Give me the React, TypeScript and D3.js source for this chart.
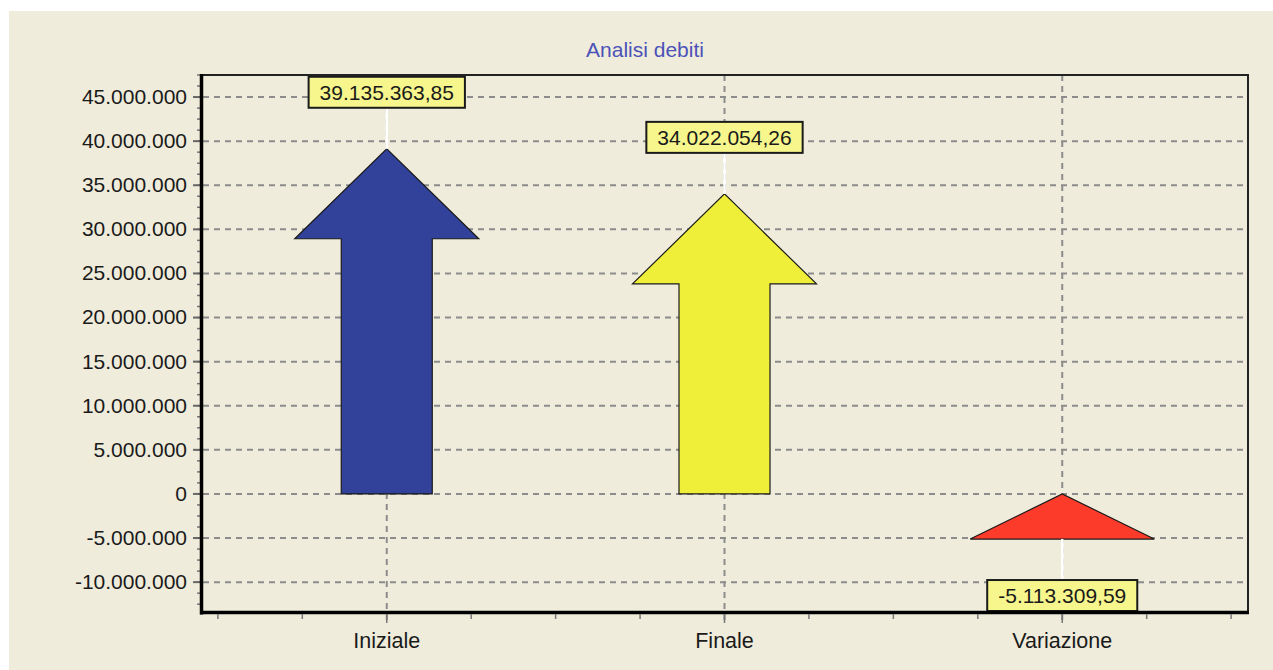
import React, { useEffect, useRef } from "react";
import * as d3 from "d3";

const TITLE = "Analisi debiti";
const CATEGORIES = ["Iniziale", "Finale", "Variazione"];
const VALUES = [39135363.85, 34022054.26, -5113309.59];
const COLORS = ["#32429b", "#efef3a", "#fd3b2b"];
const Y_TICKS = [-10000000, -5000000, 0, 5000000, 10000000, 15000000, 20000000, 25000000, 30000000, 35000000, 40000000, 45000000];
const Y_DOMAIN = [-13500000, 47500000];
const Y_MINOR_STEP = 1250000;
const X_DOMAIN = [-0.05, 3.05];
const X_TICK_STEP = 0.25;

const FONT = "'Liberation Sans', Arial, Helvetica, sans-serif";

export default function App() {
  const ref = useRef<SVGSVGElement>(null);

  useEffect(() => {
    const svg = d3.select(ref.current);
    svg.selectAll("*").remove();

    const W = 1273, H = 670;
    const M = { left: 201, right: 1248, top: 75, bottom: 613 };
    const SHAFT_W = 91, HEAD_W = 184, HEAD_LEN = 90, LABEL_GAP = 41, BOX_H = 31, BOX_PAD = 11;

    const it = d3.formatLocale({ decimal: ",", thousands: ".", grouping: [3], currency: ["", " €"], minus: "-" } as any);
    const fmtTick = it.format(",.0f");
    const fmtVal = it.format(",.2f");

    const x = d3.scaleLinear().domain(X_DOMAIN).range([M.left, M.right]);
    const y = d3.scaleLinear().domain(Y_DOMAIN).range([M.bottom, M.top]);

    // panel background
    svg.append("rect").attr("x", 0).attr("y", 0).attr("width", W).attr("height", H).attr("fill", "#ffffff");
    svg.append("rect").attr("x", 9).attr("y", 11).attr("width", W - 9).attr("height", H - 11).attr("fill", "#efecdb");

    // title
    svg.append("text")
      .attr("x", 645).attr("y", 57)
      .attr("text-anchor", "middle")
      .attr("font-family", FONT).attr("font-size", 21)
      .attr("fill", "#4b52b8")
      .text(TITLE);

    // horizontal gridlines
    svg.append("g").selectAll("line").data(Y_TICKS).join("line")
      .attr("x1", M.left + 2).attr("x2", M.right - 1)
      .attr("y1", (d) => y(d)).attr("y2", (d) => y(d))
      .attr("stroke", "#8c8c8c").attr("stroke-width", 2).attr("stroke-dasharray", "6,5");

    // vertical gridlines at categories
    svg.append("g").selectAll("line").data(CATEGORIES).join("line")
      .attr("x1", (_d, i) => x(i + 0.5)).attr("x2", (_d, i) => x(i + 0.5))
      .attr("y1", M.top).attr("y2", M.bottom + 10)
      .attr("stroke", "#8c8c8c").attr("stroke-width", 2).attr("stroke-dasharray", "6,5");

    // arrows
    const arrowPath = (v: number, i: number) => {
      const cx = x(i + 0.5);
      const yLo = y(Math.min(0, v));
      const yHi = y(Math.max(0, v));
      const len = yLo - yHi;
      const sh = SHAFT_W / 2, hh = HEAD_W / 2;
      const hl = Math.min(HEAD_LEN, len);
      const p = d3.path();
      if (len > HEAD_LEN) {
        p.moveTo(cx - sh, yLo);
        p.lineTo(cx - sh, yHi + hl);
        p.lineTo(cx - hh, yHi + hl);
        p.lineTo(cx, yHi);
        p.lineTo(cx + hh, yHi + hl);
        p.lineTo(cx + sh, yHi + hl);
        p.lineTo(cx + sh, yLo);
      } else {
        p.moveTo(cx - hh, yLo);
        p.lineTo(cx, yHi);
        p.lineTo(cx + hh, yLo);
      }
      p.closePath();
      return p.toString();
    };
    svg.append("g").selectAll("path").data(VALUES).join("path")
      .attr("d", (d, i) => arrowPath(d, i))
      .attr("fill", (_d, i) => COLORS[i])
      .attr("stroke", "#1a1a1a").attr("stroke-width", 1.2).attr("stroke-linejoin", "miter");

    // value labels
    const lg = svg.append("g");
    VALUES.forEach((v, i) => {
      const cx = x(i + 0.5);
      const yv = y(v);
      const boxTop = v >= 0 ? yv - LABEL_GAP - BOX_H : yv + LABEL_GAP;
      const boxBottom = boxTop + BOX_H;
      lg.append("line")
        .attr("x1", cx).attr("x2", cx)
        .attr("y1", v >= 0 ? boxBottom : yv)
        .attr("y2", v >= 0 ? yv : boxTop)
        .attr("stroke", "#ffffff").attr("stroke-width", 2.5);
      const rect = lg.append("rect")
        .attr("y", boxTop).attr("height", BOX_H)
        .attr("fill", "#f6f68c").attr("stroke", "#1a1a1a").attr("stroke-width", 2);
      const t = lg.append("text")
        .attr("x", cx).attr("y", boxTop + BOX_H / 2)
        .attr("dy", "0.36em")
        .attr("text-anchor", "middle")
        .attr("font-family", FONT).attr("font-size", 21)
        .attr("fill", "#1a1a1a")
        .text(fmtVal(v));
      const tw = (t.node() as SVGTextElement).getComputedTextLength();
      const bw = tw + BOX_PAD * 2;
      rect.attr("x", cx - bw / 2).attr("width", bw);
    });

    // frame
    svg.append("line").attr("x1", M.left - 1).attr("x2", M.right + 1).attr("y1", M.top).attr("y2", M.top)
      .attr("stroke", "#222").attr("stroke-width", 2);
    svg.append("line").attr("x1", M.right).attr("x2", M.right).attr("y1", M.top - 1).attr("y2", M.bottom)
      .attr("stroke", "#222").attr("stroke-width", 2);

    // y minor ticks
    const minor = d3.range(Math.ceil(Y_DOMAIN[0] / Y_MINOR_STEP) * Y_MINOR_STEP, Y_DOMAIN[1] + 1, Y_MINOR_STEP);
    svg.append("g").selectAll("line").data(minor).join("line")
      .attr("x1", M.left - 4).attr("x2", M.left)
      .attr("y1", (d) => y(d)).attr("y2", (d) => y(d))
      .attr("stroke", "#777").attr("stroke-width", 1.5);
    // y major ticks
    svg.append("g").selectAll("line").data(Y_TICKS).join("line")
      .attr("x1", M.left - 8).attr("x2", M.left + 2)
      .attr("y1", (d) => y(d)).attr("y2", (d) => y(d))
      .attr("stroke", "#666").attr("stroke-width", 2);

    // y axis line and x axis line
    svg.append("line").attr("x1", M.left + 0.5).attr("x2", M.left + 0.5).attr("y1", M.top - 1).attr("y2", M.bottom + 1.5)
      .attr("stroke", "#000").attr("stroke-width", 3.5);
    svg.append("line").attr("x1", M.left - 1).attr("x2", M.right + 1).attr("y1", M.bottom - 0.5).attr("y2", M.bottom - 0.5)
      .attr("stroke", "#000").attr("stroke-width", 3.5);

    // x ticks
    const xt = d3.range(0, 3 + 1e-9, X_TICK_STEP);
    svg.append("g").selectAll("line").data(xt).join("line")
      .attr("x1", (d) => x(d)).attr("x2", (d) => x(d))
      .attr("y1", M.bottom + 1).attr("y2", (d) => (Math.abs((d % 1) - 0.5) < 1e-6 ? M.bottom + 10 : M.bottom + 6))
      .attr("stroke", "#777").attr("stroke-width", 1.5);

    // y tick labels
    svg.append("g").selectAll("text").data(Y_TICKS).join("text")
      .attr("x", 187).attr("y", (d) => y(d))
      .attr("dy", "0.33em")
      .attr("text-anchor", "end")
      .attr("font-family", FONT).attr("font-size", 21)
      .attr("fill", "#1a1a1a")
      .text((d) => fmtTick(d));

    // category labels
    svg.append("g").selectAll("text").data(CATEGORIES).join("text")
      .attr("x", (_d, i) => x(i + 0.5)).attr("y", 648)
      .attr("text-anchor", "middle")
      .attr("font-family", FONT).attr("font-size", 21.5)
      .attr("fill", "#1a1a1a")
      .text((d) => d);
  }, []);

  return (
    <svg
      ref={ref}
      width={1273}
      height={670}
      style={{ position: "absolute", left: 0, top: 0, display: "block" }}
    />
  );
}
